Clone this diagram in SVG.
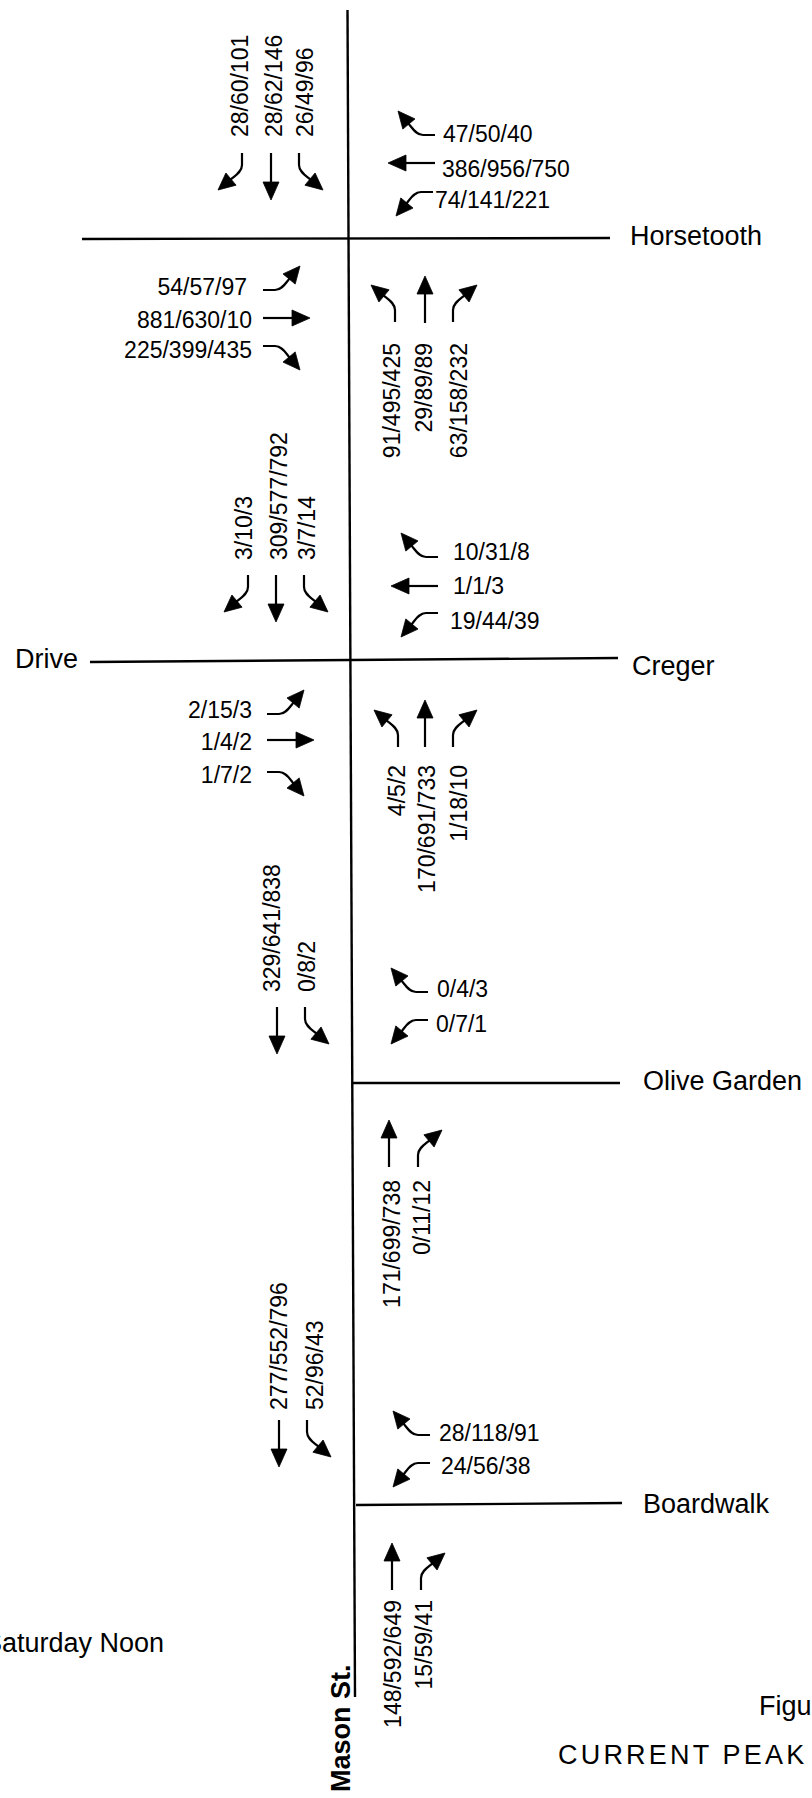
<svg xmlns="http://www.w3.org/2000/svg" xmlns:xlink="http://www.w3.org/1999/xlink" width="812" height="1798" viewBox="0 0 812 1798">
<style>
.road{stroke:#000;stroke-width:2.4;fill:none}
.sh{stroke:#000;stroke-width:2.2;fill:none}
.hd{fill:#000;stroke:#000;stroke-width:0.8;stroke-linejoin:round}
.n{font-family:"Liberation Sans",Arial,sans-serif;font-size:23px;fill:#000}
.s{font-family:"Liberation Sans",Arial,sans-serif;font-size:27px;fill:#000}
.e{text-anchor:end}
</style>
<defs>
<g id="thru"><path class="sh" d="M0,0 V-32"/><polygon class="hd" points="0,-47 -8,-29 8,-29"/></g>
<g id="rt"><path class="sh" d="M0,0 V-12 C0,-19 7.2,-22.9 11.8,-26.8"/><polygon class="hd" points="24,-37 16.1,-20 5.9,-32.2"/></g>
<g id="lt"><path class="sh" d="M0,0 V-12 C0,-19 -7.2,-22.9 -11.8,-26.8"/><polygon class="hd" points="-24,-37 -16.1,-20 -5.9,-32.2"/></g>
</defs>
<rect width="812" height="1798" fill="#fff"/>
<g id="roads">
<line class="road" x1="347.5" y1="10" x2="355" y2="1697"/>
<line class="road" x1="82" y1="239" x2="610" y2="238"/>
<line class="road" x1="90" y1="662" x2="618" y2="658"/>
<line class="road" x1="352" y1="1083" x2="620" y2="1083"/>
<line class="road" x1="356" y1="1505" x2="622" y2="1503"/>
</g>
<g id="street-names">
<text class="s" x="630" y="245">Horsetooth</text>
<text class="s" x="15" y="668">Drive</text>
<text class="s" x="632" y="675">Creger</text>
<text class="s" x="643" y="1090">Olive Garden</text>
<text class="s" x="643" y="1513">Boardwalk</text>
<text class="s" font-weight="bold" font-size="28" transform="translate(350,1792) rotate(-90)">Mason St.</text>
<text class="s" x="-16" y="1652">Saturday Noon</text>
<text class="s" x="759" y="1715">Figu</text>
<text class="s" font-size="29" letter-spacing="3.2" x="558" y="1764">CURRENT PEAK</text>
</g>
<g id="connectors">
<!-- Horsetooth -->
<use xlink:href="#rt" transform="translate(242,153) rotate(180)"/>
<use xlink:href="#thru" transform="translate(271,153) rotate(180)"/>
<use xlink:href="#lt" transform="translate(299,153) rotate(180)"/>
<use xlink:href="#rt" transform="translate(435,135) rotate(-90)"/>
<use xlink:href="#thru" transform="translate(435,163) rotate(-90)"/>
<use xlink:href="#lt" transform="translate(433,192) rotate(-90)"/>
<use xlink:href="#lt" transform="translate(263,290) rotate(90)"/>
<use xlink:href="#thru" transform="translate(263,318) rotate(90)"/>
<use xlink:href="#rt" transform="translate(263,346) rotate(90)"/>
<use xlink:href="#lt" transform="translate(395,322)"/>
<use xlink:href="#thru" transform="translate(425,323)"/>
<use xlink:href="#rt" transform="translate(453,322)"/>
<!-- Creger -->
<use xlink:href="#rt" transform="translate(248,575) rotate(180)"/>
<use xlink:href="#thru" transform="translate(276,575) rotate(180)"/>
<use xlink:href="#lt" transform="translate(304,575) rotate(180)"/>
<use xlink:href="#rt" transform="translate(438,557) rotate(-90)"/>
<use xlink:href="#thru" transform="translate(438,586) rotate(-90)"/>
<use xlink:href="#lt" transform="translate(438,613) rotate(-90)"/>
<use xlink:href="#lt" transform="translate(267,714) rotate(90)"/>
<use xlink:href="#thru" transform="translate(267,740) rotate(90)"/>
<use xlink:href="#rt" transform="translate(267,772) rotate(90)"/>
<use xlink:href="#lt" transform="translate(398,747)"/>
<use xlink:href="#thru" transform="translate(425,747)"/>
<use xlink:href="#rt" transform="translate(453,747)"/>
<!-- Olive Garden -->
<use xlink:href="#thru" transform="translate(277,1007) rotate(180)"/>
<use xlink:href="#lt" transform="translate(305,1007) rotate(180)"/>
<use xlink:href="#rt" transform="translate(428,992) rotate(-90)"/>
<use xlink:href="#lt" transform="translate(428,1020) rotate(-90)"/>
<use xlink:href="#thru" transform="translate(389,1167)"/>
<use xlink:href="#rt" transform="translate(418,1167)"/>
<!-- Boardwalk -->
<use xlink:href="#thru" transform="translate(279,1420) rotate(180)"/>
<use xlink:href="#lt" transform="translate(307,1420) rotate(180)"/>
<use xlink:href="#rt" transform="translate(430,1435) rotate(-90)"/>
<use xlink:href="#lt" transform="translate(430,1463) rotate(-90)"/>
<use xlink:href="#thru" transform="translate(392,1590)"/>
<use xlink:href="#rt" transform="translate(421,1590)"/>
</g>
<g id="horsetooth-volumes">
<text class="n" transform="translate(248,137) rotate(-90)">28/60/101</text>
<text class="n" transform="translate(282,137) rotate(-90)">28/62/146</text>
<text class="n" transform="translate(313,137) rotate(-90)">26/49/96</text>
<text class="n" x="443" y="142">47/50/40</text>
<text class="n" x="442" y="177">386/956/750</text>
<text class="n" x="435" y="208">74/141/221</text>
<text class="n e" x="247" y="295">54/57/97</text>
<text class="n e" x="252" y="328">881/630/10</text>
<text class="n e" x="252" y="358">225/399/435</text>
<text class="n e" transform="translate(400,343) rotate(-90)">91/495/425</text>
<text class="n e" transform="translate(432,343) rotate(-90)">29/89/89</text>
<text class="n e" transform="translate(467,343) rotate(-90)">63/158/232</text>
</g>
<g id="creger-volumes">
<text class="n" transform="translate(252,560) rotate(-90)">3/10/3</text>
<text class="n" transform="translate(287,560) rotate(-90)">309/577/792</text>
<text class="n" transform="translate(315,560) rotate(-90)">3/7/14</text>
<text class="n" x="453" y="560">10/31/8</text>
<text class="n" x="453" y="594">1/1/3</text>
<text class="n" x="450" y="629">19/44/39</text>
<text class="n e" x="252" y="718">2/15/3</text>
<text class="n e" x="252" y="750">1/4/2</text>
<text class="n e" x="252" y="783">1/7/2</text>
<text class="n e" transform="translate(405,765) rotate(-90)">4/5/2</text>
<text class="n e" transform="translate(435,765) rotate(-90)">170/691/733</text>
<text class="n e" transform="translate(467,765) rotate(-90)">1/18/10</text>
</g>
<g id="olive-garden-volumes">
<text class="n" transform="translate(280,992) rotate(-90)">329/641/838</text>
<text class="n" transform="translate(315,992) rotate(-90)">0/8/2</text>
<text class="n" x="437" y="997">0/4/3</text>
<text class="n" x="436" y="1032">0/7/1</text>
<text class="n e" transform="translate(400,1180) rotate(-90)">171/699/738</text>
<text class="n e" transform="translate(430,1180) rotate(-90)">0/11/12</text>
</g>
<g id="boardwalk-volumes">
<text class="n" transform="translate(287,1410) rotate(-90)">277/552/796</text>
<text class="n" transform="translate(323,1410) rotate(-90)">52/96/43</text>
<text class="n" x="439" y="1441">28/118/91</text>
<text class="n" x="441" y="1474">24/56/38</text>
<text class="n e" transform="translate(401,1600) rotate(-90)">148/592/649</text>
<text class="n e" transform="translate(432,1600) rotate(-90)">15/59/41</text>
</g>
</svg>
